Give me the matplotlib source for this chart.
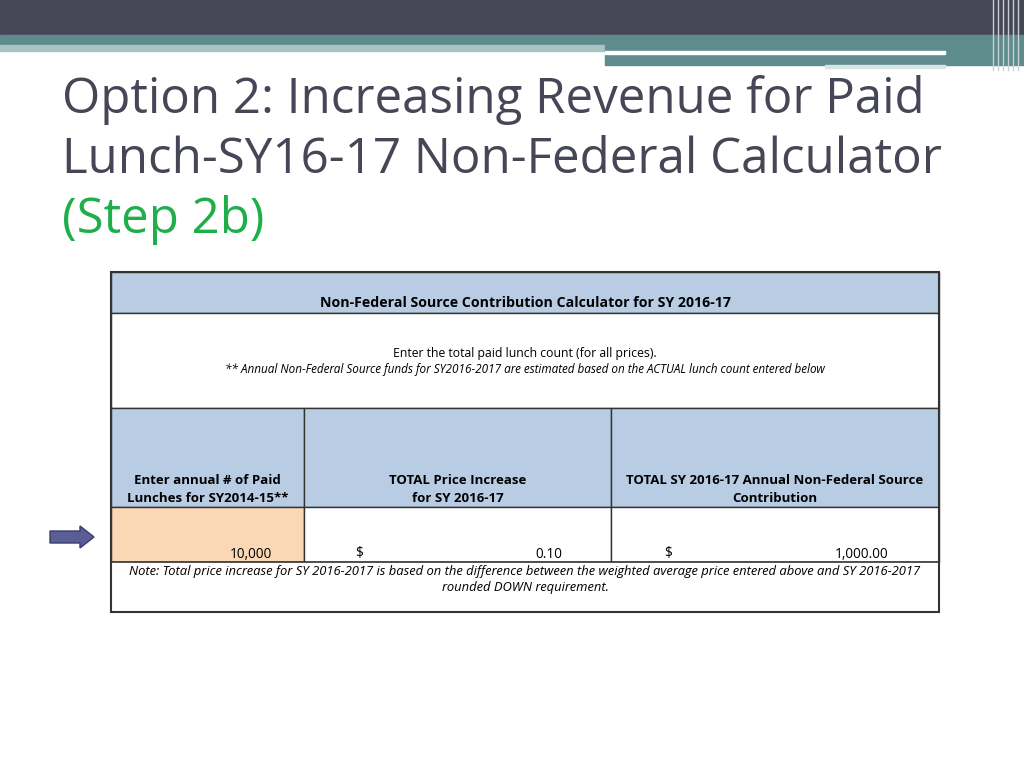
import matplotlib
matplotlib.use("Agg")
import matplotlib.pyplot as plt
from matplotlib.patches import Rectangle, FancyArrow

title_lines = ["Option 2: Increasing Revenue for Paid", "Lunch-SY16-17 Non-Federal Calculator"]
title_step = "(Step 2b)"
table_title = "Non-Federal Source Contribution Calculator for SY 2016-17"
instr1 = "Enter the total paid lunch count (for all prices)."
instr2 = "** Annual Non-Federal Source funds for SY2016-2017 are estimated based on the ACTUAL lunch count entered below"
col_headers = ["Enter annual # of Paid\nLunches for SY2014-15**", "TOTAL Price Increase\nfor SY 2016-17",
               "TOTAL SY 2016-17 Annual Non-Federal Source\nContribution"]
lunch_count = 10000
price_increase = 0.10
contribution = 1000.00
note = ("Note: Total price increase for SY 2016-2017 is based on the difference between the weighted average price entered above and SY 2016-2017\n"
        "rounded DOWN requirement.")

fig = plt.figure(figsize=(10.24, 7.68), dpi=100)
ax = fig.add_axes([0, 0, 1, 1])
ax.set_xlim(0, 1024); ax.set_ylim(768, 0); ax.axis("off")

ax.add_patch(Rectangle((0, 0), 1024, 35, color="#454656"))
ax.add_patch(Rectangle((0, 35), 1024, 10, color="#5E8C8C"))
ax.add_patch(Rectangle((0, 45), 605, 6, color="#A9C3C3"))
ax.add_patch(Rectangle((605, 45), 419, 20, color="#5E8C8C"))
ax.add_patch(Rectangle((605, 51), 340, 3, color="white"))
ax.add_patch(Rectangle((825, 65), 120, 3, color="#D8E4E4"))
for x in [993, 998, 1003, 1008, 1013, 1018]:
    ax.plot([x, x], [0, 70], color="#C8D0D0", lw=1)

tc = "#454656"
ax.text(62, 100, title_lines[0], fontsize=35.5, color=tc, va="center", family="Open Sans")
ax.text(62, 160, title_lines[1], fontsize=35.5, color=tc, va="center", family="Open Sans")
ax.text(62, 220, title_step, fontsize=35.5, color="#1FAE4A", va="center", family="Open Sans")

blue = "#B8CCE4"
L, R = 111, 939
c1, c2 = 304, 611
ax.add_patch(Rectangle((L, 272), R - L, 41, facecolor=blue, edgecolor="#333333", lw=1))
ax.add_patch(Rectangle((L, 313), R - L, 95, facecolor="white", edgecolor="#333333", lw=1))
for a, b in [(L, c1), (c1, c2), (c2, R)]:
    ax.add_patch(Rectangle((a, 408), b - a, 99, facecolor=blue, edgecolor="#333333", lw=1))
ax.add_patch(Rectangle((L, 507), c1 - L, 55, facecolor="#FAD7B5", edgecolor="#333333", lw=1))
ax.add_patch(Rectangle((c1, 507), c2 - c1, 55, facecolor="white", edgecolor="#333333", lw=1))
ax.add_patch(Rectangle((c2, 507), R - c2, 55, facecolor="white", edgecolor="#333333", lw=1))
ax.add_patch(Rectangle((L, 562), R - L, 50, facecolor="white", edgecolor="#333333", lw=1.2))
ax.add_patch(Rectangle((L, 272), R - L, 340, facecolor="none", edgecolor="#333333", lw=1.5))

f = "Open Sans"
ax.text((L + R) / 2, 303, table_title, ha="center", va="center", fontsize=10.2, weight="bold", family=f)
ax.text((L + R) / 2, 353, instr1, ha="center", va="center", fontsize=8.8, family=f)
ax.text((L + R) / 2, 369, instr2, ha="center", va="center", fontsize=8.5, style="italic", family=f)
for (a, b), h in zip([(L, c1), (c1, c2), (c2, R)], col_headers):
    ax.text((a + b) / 2, 489, h, ha="center", va="center", fontsize=9.5, weight="bold", family=f, linespacing=1.5)
ax.text(272, 554, f"{lunch_count:,}", ha="right", va="center", fontsize=9.8, family=f)
ax.text(355, 554, "$", ha="left", va="center", fontsize=9.8, family=f)
ax.text(562, 554, f"{price_increase:.2f}", ha="right", va="center", fontsize=9.8, family=f)
ax.text(664, 554, "$", ha="left", va="center", fontsize=9.8, family=f)
ax.text(888, 554, f"{contribution:,.2f}", ha="right", va="center", fontsize=9.8, family=f)
ax.text((L + R) / 2, 580, note, ha="center", va="center", fontsize=9.4, style="italic", family=f, linespacing=1.3)

ax.add_patch(FancyArrow(50, 537, 30, 0, width=12, head_width=22, head_length=14,
                        length_includes_head=False, facecolor="#5B5E96", edgecolor="#3A3C6A", lw=1))

fig.savefig("out.png", dpi=100)
